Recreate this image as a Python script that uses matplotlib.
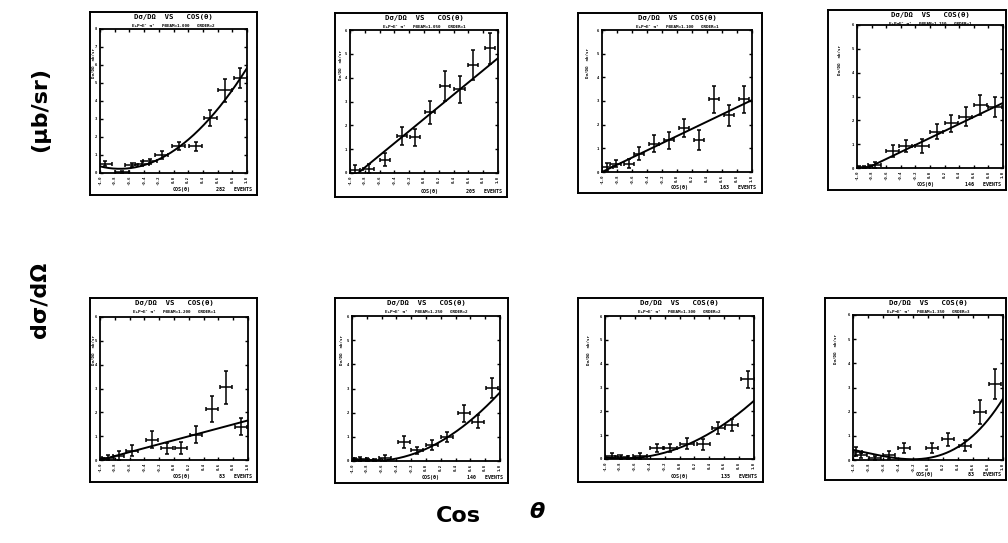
import numpy as np
import matplotlib
matplotlib.use("Agg")
import matplotlib.pyplot as plt

# cos(theta) bin centres, cross sections (in tick units) and errors, per panel
cos_1 = [-0.93, -0.70, -0.57, -0.43, -0.32, -0.16, 0.07, 0.30, 0.50, 0.70, 0.91]
ds_1 = [0.52, 0.04, 0.43, 0.52, 0.65, 1.00, 1.48, 1.48, 3.05, 4.60, 5.30]
err_1 = [0.15, 0.05, 0.12, 0.12, 0.15, 0.20, 0.22, 0.25, 0.46, 0.65, 0.55]

cos_2 = [-0.93, -0.75, -0.53, -0.30, -0.12, 0.08, 0.28, 0.48, 0.66, 0.89]
ds_2 = [0.14, 0.18, 0.56, 1.56, 1.50, 2.54, 3.65, 3.51, 4.53, 5.23]
err_2 = [0.18, 0.18, 0.28, 0.38, 0.35, 0.50, 0.62, 0.58, 0.63, 0.65]

cos_3 = [-0.93, -0.82, -0.64, -0.51, -0.31, -0.11, 0.09, 0.29, 0.49, 0.69, 0.89]
ds_3 = [0.21, 0.35, 0.35, 0.78, 1.20, 1.34, 1.84, 1.34, 3.07, 2.40, 3.07]
err_3 = [0.15, 0.15, 0.18, 0.28, 0.35, 0.36, 0.38, 0.42, 0.58, 0.45, 0.58]

cos_4 = [-0.97, -0.91, -0.76, -0.51, -0.33, -0.11, 0.09, 0.29, 0.49, 0.69, 0.89]
ds_4 = [0.02, 0.03, 0.14, 0.70, 0.91, 0.93, 1.53, 1.88, 2.16, 2.65, 2.58]
err_4 = [0.06, 0.06, 0.12, 0.25, 0.25, 0.28, 0.30, 0.35, 0.38, 0.42, 0.42]

cos_5 = [-0.96, -0.89, -0.75, -0.57, -0.30, -0.10, 0.10, 0.30, 0.51, 0.70, 0.91]
ds_5 = [0.04, 0.10, 0.18, 0.39, 0.85, 0.49, 0.49, 1.06, 2.14, 3.05, 1.40]
err_5 = [0.06, 0.10, 0.18, 0.22, 0.35, 0.22, 0.25, 0.35, 0.55, 0.70, 0.35]

cos_6 = [-0.96, -0.89, -0.80, -0.69, -0.55, -0.30, -0.12, 0.08, 0.28, 0.51, 0.70, 0.89]
ds_6 = [0.05, 0.10, 0.05, 0.03, 0.14, 0.79, 0.44, 0.65, 1.00, 1.97, 1.63, 3.01]
err_6 = [0.06, 0.08, 0.06, 0.05, 0.12, 0.25, 0.15, 0.20, 0.22, 0.35, 0.28, 0.42]

cos_7 = [-0.91, -0.78, -0.69, -0.53, -0.30, -0.13, 0.10, 0.32, 0.52, 0.70, 0.92]
ds_7 = [0.14, 0.08, 0.06, 0.14, 0.46, 0.46, 0.65, 0.61, 1.31, 1.41, 3.35]
err_7 = [0.10, 0.08, 0.06, 0.12, 0.18, 0.18, 0.22, 0.22, 0.25, 0.25, 0.35]

cos_8 = [-0.96, -0.90, -0.71, -0.52, -0.32, 0.05, 0.27, 0.49, 0.69, 0.89]
ds_8 = [0.35, 0.20, 0.07, 0.21, 0.49, 0.49, 0.85, 0.59, 1.97, 3.13]
err_8 = [0.20, 0.10, 0.08, 0.15, 0.22, 0.22, 0.25, 0.22, 0.50, 0.62]

cos_bins = [cos_1, cos_2, cos_3, cos_4, cos_5, cos_6, cos_7, cos_8]
dsigma = [ds_1, ds_2, ds_3, ds_4, ds_5, ds_6, ds_7, ds_8]
dsigma_err = [err_1, err_2, err_3, err_4, err_5, err_6, err_7, err_8]
cos_halfwidth = [0.09, 0.07, 0.07, 0.09, 0.08, 0.08, 0.09, 0.08]

# polynomial fits, coefficients a0 + a1 x + a2 x^2 + a3 x^3
fit_coef = [
    [1.23, 2.73, 1.87, 0.0],
    [2.27, 2.55, 0.0, 0.0],
    [1.52, 1.52, 0.0, 0.0],
    [1.26, 1.47, 0.0, 0.0],
    [0.83, 0.83, 0.0, 0.0],
    [0.50, 1.38, 0.96, 0.0],
    [0.47, 1.185, 0.79, 0.0],
    [0.08, 0.50, 1.40, 0.56],
]
y_top = [8, 6, 6, 6, 6, 6, 6, 6]
n_events = [282, 205, 163, 146, 83, 140, 135, 83]
p_beam = ["1.000", "1.050", "1.100", "1.150", "1.200", "1.250", "1.300", "1.350"]
fit_order = [2, 1, 1, 1, 1, 2, 2, 3]

W, H = 1008, 543

# pixel boxes: outer frame and plotting area (x0, y0, x1, y1)
outer_box = [(90, 12, 257, 195), (335, 13, 507, 197), (578, 13, 762, 193), (828, 10, 1006, 190),
             (90, 298, 257, 482), (335, 298, 508, 483), (578, 298, 763, 482), (825, 298, 1006, 480)]
inner_box = [(100, 29, 247, 173), (350, 30, 498, 173), (602, 30, 752, 172), (857, 25, 1003, 168),
             (100, 317, 248, 460), (352, 316, 500, 461), (605, 316, 754, 459), (853, 315, 1003, 460)]


def rect(b):
    x0, y0, x1, y1 = b
    return [x0 / W, 1 - y1 / H, (x1 - x0) / W, (y1 - y0) / H]


fig = plt.figure(figsize=(W / 100, H / 100), dpi=100)
mono = "DejaVu Sans Mono"
xt = np.linspace(-1, 1, 11)

for i in range(8):
    # outer frame with header and footer text
    fr = fig.add_axes(rect(outer_box[i]))
    fr.set_xticks([])
    fr.set_yticks([])
    for s in fr.spines.values():
        s.set_linewidth(1.4)
    fr.set_xlim(0, 1)
    fr.set_ylim(0, 1)
    hx = (inner_box[i][0] + inner_box[i][2]) / 2
    hx = (hx - outer_box[i][0]) / (outer_box[i][2] - outer_box[i][0])
    fr.text(hx, 0.99, "D\u03c3/D\u03a9  VS   COS(\u03b8)", ha="center", va="top",
            fontsize=5.2, fontweight="bold", family=mono)
    fr.text(hx, 0.935, "E+P\u2192E' \u03c0\u207a   PBEAM=%s   ORDER=%d" % (p_beam[i], fit_order[i]),
            ha="center", va="top", fontsize=3.1, fontweight="bold", family=mono)
    fr.text(0.55, 0.015, "COS(\u03b8)", ha="center", va="bottom",
            fontsize=3.6, fontweight="bold", family=mono)
    fr.text(0.97, 0.015, "%d   EVENTS" % n_events[i], ha="right", va="bottom",
            fontsize=3.6, fontweight="bold", family=mono)
    lx = (inner_box[i][0] - outer_box[i][0]) / (outer_box[i][2] - outer_box[i][0]) * 0.4
    fr.text(lx, 0.72, "D\u03c3/D\u03a9  nb/sr", rotation=90, ha="center", va="center",
            fontsize=3.0, fontweight="bold", family=mono)

    # plotting area
    ax = fig.add_axes(rect(inner_box[i]))
    x = np.array(cos_bins[i])
    y = np.array(dsigma[i])
    ax.errorbar(x, y, xerr=cos_halfwidth[i], yerr=dsigma_err[i], fmt="none",
                ecolor="black", elinewidth=1.1, capsize=1.5, capthick=1.1)
    xs = np.linspace(-1, 1, 200)
    c = fit_coef[i]
    ax.plot(xs, c[0] + c[1] * xs + c[2] * xs ** 2 + c[3] * xs ** 3, color="black", lw=1.4)
    ax.set_xlim(-1, 1)
    ax.set_ylim(0, y_top[i])
    ax.set_xticks(xt)
    ax.set_xticklabels(["%.1f" % v for v in xt], rotation=90, fontsize=2.8,
                       fontweight="bold", family=mono)
    ax.set_yticks(range(y_top[i] + 1))
    ax.set_yticklabels(["%d" % v for v in range(y_top[i] + 1)], fontsize=2.8,
                       fontweight="bold", family=mono)
    ax.tick_params(direction="in", length=2, width=1.0, pad=2, top=True, right=True)
    for s in ax.spines.values():
        s.set_linewidth(1.3)

# shared axis labels
fig.text(40 / W, 1 - 110 / H, "(\u03bcb/sr)", rotation=90, ha="center", va="center",
         fontsize=16, fontweight="bold")
fig.text(40 / W, 1 - 300 / H, "d\u03c3/d\u03a9", rotation=90, ha="center", va="center",
         fontsize=16, fontweight="bold")
fig.text(458 / W, 1 - 516 / H, "Cos", ha="center", va="center", fontsize=16, fontweight="bold")
fig.text(537 / W, 1 - 512 / H, "\u03b8", ha="center", va="center", fontsize=16,
         fontweight="bold", fontstyle="italic")

fig.savefig("out.png", dpi=100)
